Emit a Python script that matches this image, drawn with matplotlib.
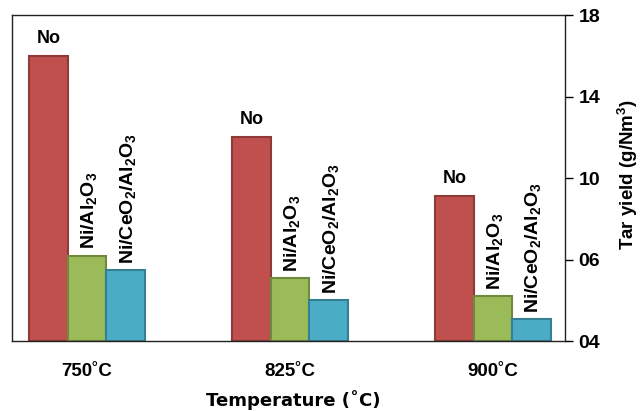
import matplotlib
matplotlib.use("Agg")
import matplotlib.pyplot as plt
from matplotlib import font_manager
import numpy as np

# Data
temperatures = ["750˚C", "825˚C", "900˚C"]
catalysts = ["No", "Ni/Al$_2$O$_3$", "Ni/CeO$_2$/Al$_2$O$_3$"]
tar_no = [16.0, 12.0, 9.1]
tar_ni_al = [6.2, 5.1, 4.2]
tar_ni_ce_al = [5.5, 4.0, 3.1]

y_ticks = [2, 6, 10, 14, 18]
y_tick_labels = ["04", "06", "10", "14", "18"]

fill_colors = ["#C0504D", "#9BBB59", "#4BACC6"]
edge_colors = ["#8E3A38", "#71893F", "#357F93"]

installed = {f.name for f in font_manager.fontManager.ttflist}
main_font = "Liberation Sans Narrow" if "Liberation Sans Narrow" in installed else "Liberation Sans"
narrow = [main_font, "DejaVu Sans"]

plt.rcParams["mathtext.fontset"] = "custom"
plt.rcParams["mathtext.rm"] = main_font + ":bold"
plt.rcParams["mathtext.it"] = main_font + ":bold"
plt.rcParams["mathtext.bf"] = main_font + ":bold"

fig = plt.figure(figsize=(6.44, 4.11), dpi=100)
ax = fig.add_axes([0.0186, 0.170, 0.8585, 0.7935])

x = np.arange(len(temperatures))
width = 0.19
series = [tar_no, tar_ni_al, tar_ni_ce_al]
for i, vals in enumerate(series):
    pos = x + (i - 1) * width
    ax.bar(pos, np.array(vals) - 2, width=width, bottom=2,
           color=fill_colors[i], edgecolor=edge_colors[i], linewidth=1.5)
    for p, v in zip(pos, vals):
        if i == 0:
            ax.text(p, v + 0.45, catalysts[i], ha="center", va="bottom",
                    fontsize=13, fontweight="bold", family=narrow)
        else:
            ax.text(p + 0.01, v + 0.3, catalysts[i], ha="center", va="bottom",
                    rotation=90, fontsize=14, fontweight="bold", family=narrow)

ax.set_xlim(-0.37, 2.355)
ax.set_ylim(2, 18)

ax.yaxis.tick_right()
ax.yaxis.set_label_position("right")
ax.set_yticks(y_ticks)
ax.set_yticklabels(y_tick_labels, fontsize=14, fontweight="bold", family=narrow)
ax.tick_params(axis="y", direction="out", length=6, width=1, pad=4)

ax.set_xticks(x)
ax.set_xticklabels(temperatures, fontsize=13.5, fontweight="bold", family=narrow)
ax.tick_params(axis="x", length=0, pad=16)

# axis labels placed at figure level so they stay inside the canvas
fig.text(0.455, 0.027, "Temperature (˚C)", ha="center", va="center",
         fontsize=13, fontweight="bold")
fig.text(0.975, 0.575, "Tar yield (g/Nm$^3$)", ha="center", va="center",
         rotation=90, fontsize=13.5, fontweight="bold", family=narrow)

for s in ax.spines.values():
    s.set_color("#222222")
    s.set_linewidth(1.0)

fig.savefig("out.png", dpi=100)
